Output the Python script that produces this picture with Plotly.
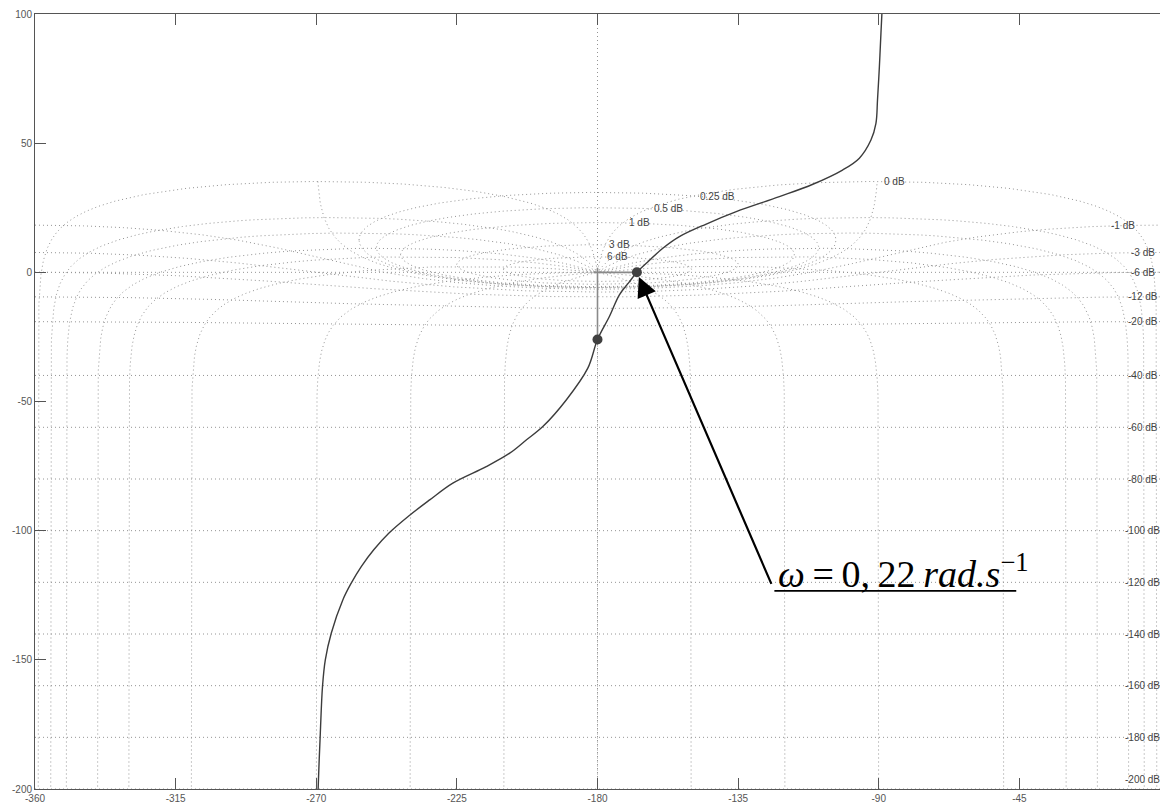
import numpy as np
import plotly.graph_objects as go

# ---------------- data ----------------
# Open-loop locus (Nichols plane): phase in degrees, gain in dB
locus_phase = [-269.4, -269.1, -268.7, -268.0, -267.1, -265.2, -261.5, -258.8, -255.6,
               -251.6, -246.8, -240.6, -233.7, -226.3, -215.6, -208.1, -202.8, -197.5,
               -190.0, -183.1, -180.0, -176.2, -173.0, -170.0, -167.4, -164.4, -159.1,
               -153.8, -145.2, -135.6, -121.8, -111.1, -101.6, -96.2, -92.5, -90.9,
               -90.4, -89.8, -89.3, -89.0]
locus_gain = [-200.0, -190.0, -178.4, -160.3, -150.0, -139.7, -126.8, -120.3, -113.9,
              -107.4, -101.0, -94.5, -88.1, -81.6, -75.2, -70.0, -64.9, -59.7,
              -49.4, -37.1, -26.0, -17.1, -8.7, -4.0, 0.0, 3.5, 9.3,
              13.8, 18.7, 23.5, 29.3, 34.1, 39.6, 44.2, 51.2, 57.7,
              66.7, 79.6, 92.5, 100.0]

# Highlighted points: phase crossover and gain crossover (omega = 0.22 rad/s)
marker_phase = [-180.0, -167.4]
marker_gain = [-26.0, 0.0]

# Nichols grid levels
cl_gain_levels_db = [6, 3, 1, 0.5, 0.25, 0, -1, -3, -6, -12, -20, -40, -60, -80,
                     -100, -120, -140, -160, -180, -200]
cl_phase_levels_deg = [-1, -5, -10, -20, -30, -50, -90, -120, -150, -180,
                       -210, -240, -270, -310, -330, -340, -350, -355, -359]

x_tick_vals = [-360, -315, -270, -225, -180, -135, -90, -45]
x_tick_text = ["-360", "-315", "-270", "-225", "-180", "-135", "-90", "-45"]
y_tick_vals = [-200, -150, -100, -50, 0, 50, 100]
y_tick_text = ["-200", "-150", "-100", "-50", "0", "50", "100"]

annotation_text = "<i>ω</i>\u2009=\u20090,\u200922\u2009<i>rad.s</i><sup>−1</sup>"


# ---------------- Nichols grid geometry ----------------
def m_contour(db):
    m = 10 ** (db / 20.0)
    if abs(db) < 1e-9:
        phi = np.linspace(-269.5, -90.5, 1200)
        r = -1.0 / (2 * np.cos(np.radians(phi)))
        return phi, 20 * np.log10(r)
    if m < 1:
        phi = np.linspace(-360, 0, 1441)
        c = np.cos(np.radians(phi))
        r = (m * m * c + m * np.sqrt(m * m * c * c + 1 - m * m)) / (1 - m * m)
        return phi, 20 * np.log10(r)
    a = np.degrees(np.arccos(np.sqrt(1 - 1 / (m * m))))
    d = a * np.sin(np.linspace(-np.pi / 2, np.pi / 2, 700))
    phi = -180 + d
    c = np.cos(np.radians(phi))
    disc = np.clip(m * m * c * c + 1 - m * m, 0, None)
    r_hi = (m * m * c - m * np.sqrt(disc)) / (1 - m * m)
    r_lo = (m * m * c + m * np.sqrt(disc)) / (1 - m * m)
    ph = np.concatenate([phi, phi[::-1]])
    g = np.concatenate([20 * np.log10(r_hi), 20 * np.log10(r_lo[::-1])])
    return ph, g


def m_upper(db, phi):
    m = 10 ** (db / 20.0)
    c = np.cos(np.radians(phi))
    if m < 1:
        r = (m * m * c + m * np.sqrt(m * m * c * c + 1 - m * m)) / (1 - m * m)
    else:
        disc = max(m * m * c * c + 1 - m * m, 0)
        r = (m * m * c - m * np.sqrt(disc)) / (1 - m * m)
    return 20 * np.log10(r)


def n_contour(psi):
    rho = np.unique(np.concatenate([np.logspace(-5, 11.5, 5000),
                                    np.linspace(0.8, 1.25, 4000)]))[::-1]
    G = 1.0 / (rho * np.exp(-1j * np.radians(psi)) - 1)
    ph = np.degrees(np.unwrap(np.angle(G)))
    k = np.round((psi - ph[0]) / 360.0)
    ph = ph + 360 * k
    return ph, 20 * np.log10(np.abs(G))


gx, gy = [], []
for lvl in cl_gain_levels_db:
    p, g = m_contour(lvl)
    gx += list(np.round(p, 3)) + [None]
    gy += list(np.round(g, 3)) + [None]
for psi in cl_phase_levels_deg:
    p, g = n_contour(psi)
    gx += list(np.round(p, 3)) + [None]
    gy += list(np.round(g, 3)) + [None]
# critical lines at -180 deg and 0 dB
gx += [-180, -180, None, -360, 0, None]
gy += [-200, 100, None, 0, 0, None]

grid_col = "#949494"
fig = go.Figure()
fig.add_trace(go.Scatter(x=gx, y=gy, mode="lines", hoverinfo="skip",
                         line=dict(color=grid_col, width=1, dash="1px,3px"),
                         showlegend=False))

# critical point cross and margin guides
fig.add_trace(go.Scatter(x=[-181.2, marker_phase[1]], y=[0, 0], mode="lines",
                         line=dict(color="#8a8a8a", width=1.6), showlegend=False))
fig.add_trace(go.Scatter(x=[-180, -180], y=[1.8, marker_gain[0]], mode="lines",
                         line=dict(color="#8a8a8a", width=1.6), showlegend=False))

fig.add_trace(go.Scatter(x=locus_phase, y=locus_gain, mode="lines",
                         line=dict(color="#3c3c3c", width=1.4, shape="spline", smoothing=1.0),
                         showlegend=False))
fig.add_trace(go.Scatter(x=marker_phase, y=marker_gain, mode="markers",
                         marker=dict(color="#404040", size=10), showlegend=False))

annotations = []
lab_font = dict(family="Liberation Sans, Arial", size=10, color="#444444")
pos_label_phase = {6: -177.6, 3: -177.0, 1: -170.7, 0.5: -162.7, 0.25: -148.0}
for lvl in cl_gain_levels_db:
    if lvl > 0:
        ph = pos_label_phase[lvl]
        annotations.append(dict(x=ph, y=m_upper(lvl, ph), text=f"{lvl:g} dB", showarrow=False,
                                xanchor="left", yanchor="middle", font=lab_font))
    elif lvl == 0:
        annotations.append(dict(x=-89.0, y=35.2, text="0 dB", showarrow=False,
                                xanchor="left", yanchor="middle", font=lab_font))
    else:
        ph = -12.0 if lvl == -1 else -5.5
        yv = m_upper(lvl, ph)
        if lvl == -200:
            yv = -196.5
        annotations.append(dict(x=ph, y=yv, text=f"{lvl:g} dB", showarrow=False,
                                xanchor="center", yanchor="middle", font=lab_font))

# omega annotation: arrow + underlined label
tail_x, tail_y = -123.4, -123.3
annotations.append(dict(x=marker_phase[1], y=marker_gain[1], ax=tail_x, ay=tail_y,
                        xref="x", yref="y", axref="x", ayref="y", text=" ",
                        showarrow=True, arrowhead=2, arrowsize=1.8, arrowwidth=2.2,
                        arrowcolor="#000000", standoff=5))
annotations.append(dict(x=tail_x + 0.4, y=tail_y - 2.2, xref="x", yref="y", text=annotation_text,
                        showarrow=False, xanchor="left", yanchor="bottom",
                        font=dict(family="Liberation Serif, Times New Roman", size=38, color="#000000")))

fig.add_shape(type="line", x0=tail_x, x1=-46.0, y0=tail_y, y1=tail_y,
              line=dict(color="#000000", width=1.6))

axis_col = "#555555"
tick_font = dict(family="Liberation Sans, Arial", size=10, color="#555555")
fig.update_layout(
    width=1160, height=805,
    margin=dict(l=35, r=0, t=14, b=16),
    paper_bgcolor="white", plot_bgcolor="white",
    annotations=annotations,
    xaxis=dict(range=[-360, 0], tickvals=x_tick_vals, ticktext=x_tick_text,
               ticks="inside", ticklen=11,
               tickcolor=axis_col, showline=True, linecolor=axis_col, linewidth=1,
               mirror="ticks", showgrid=False, zeroline=False, tickfont=tick_font),
    yaxis=dict(range=[-200, 100], tickvals=y_tick_vals, ticktext=y_tick_text,
               ticks="inside", ticklen=11,
               tickcolor=axis_col, showline=True, linecolor=axis_col, linewidth=1,
               mirror=False, showgrid=False, zeroline=False, tickfont=tick_font),
)

fig.write_html("out.html", config={"displayModeBar": False},
               post_script="document.body.style.margin='0';document.body.style.overflow='hidden';")
